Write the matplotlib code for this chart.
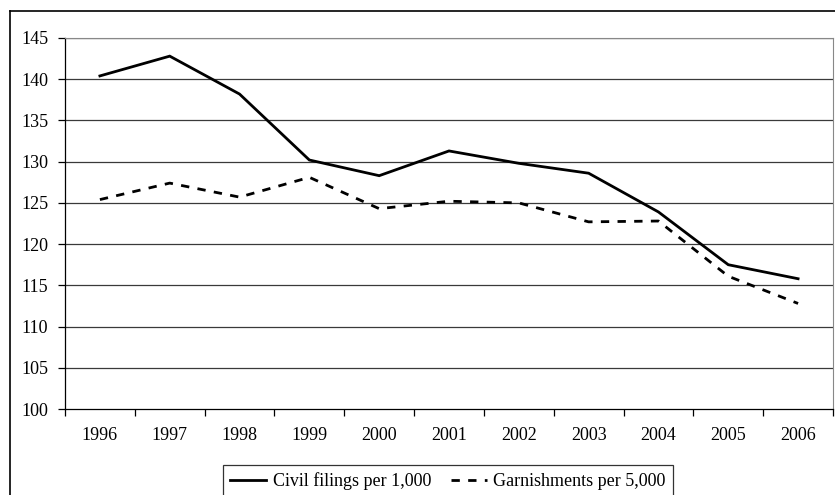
import matplotlib.pyplot as plt
import numpy as np
from matplotlib.lines import Line2D

# Data
years = ['1996', '1997', '1998', '1999', '2000', '2001', '2002', '2003', '2004', '2005', '2006']
civil_filings = [140.4, 142.8, 138.2, 130.2, 128.3, 131.3, 129.8, 128.6, 123.9, 117.5, 115.8]
garnishments = [125.4, 127.4, 125.7, 128.1, 124.3, 125.2, 125.0, 122.7, 122.8, 116.1, 112.8]

plt.rcParams['font.family'] = ['Liberation Serif', 'DejaVu Serif']

W, H = 835, 495
fig = plt.figure(figsize=(W / 100, H / 100), dpi=100)
ax = fig.add_axes([65 / W, 1 - 409 / H, 768 / W, 371 / H])

x = np.arange(len(years))
ax.plot(x, civil_filings, color='black', lw=2.0, solid_joinstyle='miter')
ax.plot(x, garnishments, color='black', lw=2.0, linestyle=(0, (3, 3)))

ax.set_xlim(-0.5, len(years) - 0.5)
ax.set_ylim(100, 145)
ax.set_yticks(np.arange(100, 146, 5))
for v in np.arange(105, 146, 5):
    ax.axhline(v, color='#3a3a3a', lw=0.9, zorder=0)

# category boundary ticks, labels centred in categories
ax.set_xticks(np.arange(-0.5, len(years), 1.0))
ax.set_xticklabels([])
ax.set_xticks(x, minor=True)
ax.set_xticklabels(years, minor=True)
ax.tick_params(axis='x', which='major', length=5, width=0.9, direction='out')
ax.tick_params(axis='x', which='minor', length=0, pad=13, labelsize=13)
ax.tick_params(axis='y', length=5, width=0.9, pad=7, labelsize=13)

ax.spines['top'].set_color('#888888')
ax.spines['right'].set_color('#888888')
ax.spines['left'].set_linewidth(0.9)
ax.spines['bottom'].set_linewidth(0.9)

# outer frame (extends beyond the image on right/bottom)
fig.add_artist(Line2D([10 / W, 10 / W], [0, 1 - 11 / H], color='black', lw=1.2))
fig.add_artist(Line2D([10 / W, 1], [1 - 11 / H, 1 - 11 / H], color='black', lw=1.2))

handles = [Line2D([], [], color='black', lw=2.0),
           Line2D([], [], color='black', lw=2.0, linestyle=(0, (3, 3)))]
leg = fig.legend(handles, ['Civil filings per 1,000', 'Garnishments per 5,000'],
                 ncol=2, loc='upper left', bbox_to_anchor=(223 / W, 1 - 465 / H),
                 fontsize=13, frameon=True, fancybox=False, handlelength=2.0,
                 handletextpad=0.35, columnspacing=1.1, borderpad=0.4,
                 borderaxespad=0)
leg.get_frame().set_edgecolor('black')
leg.get_frame().set_linewidth(0.9)

fig.savefig('out.png', dpi=100)
